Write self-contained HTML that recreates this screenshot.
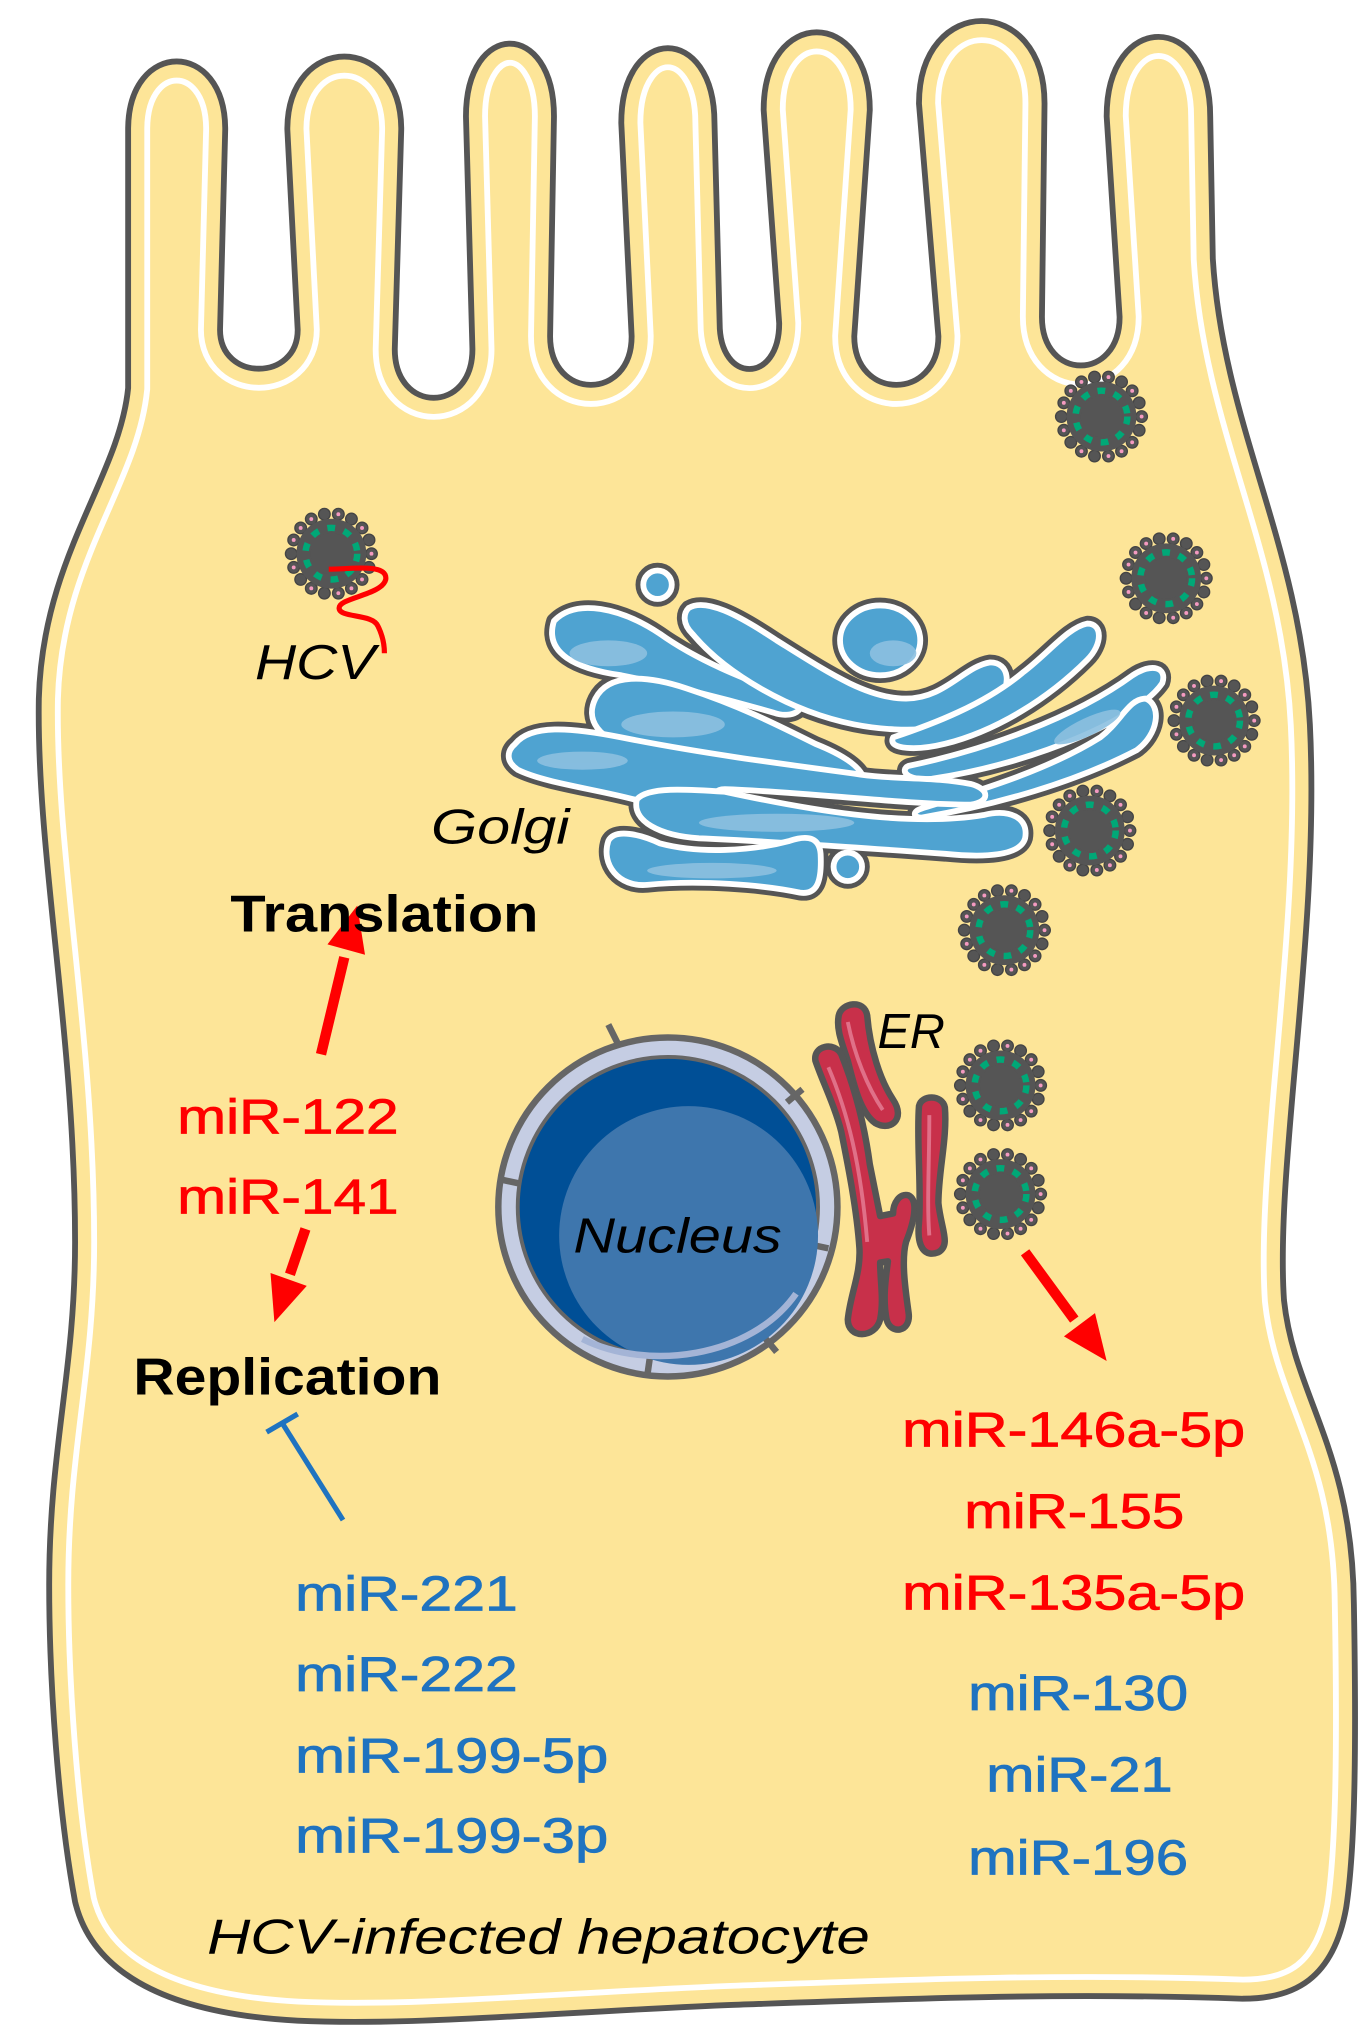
<!DOCTYPE html>
<html><head><meta charset="utf-8"><style>
html,body{margin:0;padding:0;background:#fff}
svg{display:block}
text{font-family:"Liberation Sans",sans-serif}
</style></head><body>
<svg width="1372" height="2044" viewBox="0 0 1060 1580" preserveAspectRatio="none" xmlns="http://www.w3.org/2000/svg">
<defs>
<path id="cell" d="M99 300 L99 100 C99 30,174 30,174 100 L170 255 C170 295,230 295,230 255 L222 100 C222 25,310 25,310 100 L305 270 C305 320,365 320,365 270 L360 90 C360 15,428 15,428 90 L425 260 C425 310,488 310,488 260 L480 95 C480 18,552 18,552 95 L556 250 C556 297,602 297,602 250 L590 85 C590 5,672 5,672 85 L660 260 C660 310,725 310,725 260 L710 80 C710 -5,807 -5,807 80 L805 245 C805 295,865 295,865 245 L855 90 C855 8,935 8,935 90 L937 200 C945 330,1005 420,1012 560 C1020 720,985 900,992 1005 C1000 1080,1045 1120,1046 1240 C1048 1350,1047 1430,1040 1475 C1030 1530,1000 1545,960 1545 C820 1540,700 1545,560 1550 C420 1556,320 1566,230 1562 C120 1556,70 1520,58 1470 C45 1400,38 1300,38 1225 C38 1120,58 1060,58 960 C58 800,28 660,30 540 C33 430,92 370,99 300 Z"/>
<clipPath id="cc"><use href="#cell"/></clipPath>
<g id="vir">
<g fill="#555" stroke="#444" stroke-width="1">
<circle cx="31" cy="0" r="4.5"/><circle cx="29.1" cy="10.6" r="4.5"/><circle cx="23.7" cy="19.9" r="4.5"/><circle cx="15.5" cy="26.8" r="4.5"/><circle cx="5.4" cy="30.5" r="4.5"/><circle cx="-5.4" cy="30.5" r="4.5"/><circle cx="-15.5" cy="26.8" r="4.5"/><circle cx="-23.7" cy="19.9" r="4.5"/><circle cx="-29.1" cy="10.6" r="4.5"/><circle cx="-31" cy="0" r="4.5"/><circle cx="-29.1" cy="-10.6" r="4.5"/><circle cx="-23.7" cy="-19.9" r="4.5"/><circle cx="-15.5" cy="-26.8" r="4.5"/><circle cx="-5.4" cy="-30.5" r="4.5"/><circle cx="5.4" cy="-30.5" r="4.5"/><circle cx="15.5" cy="-26.8" r="4.5"/><circle cx="23.7" cy="-19.9" r="4.5"/><circle cx="29.1" cy="-10.6" r="4.5"/>
</g>
<g fill="#f49ac1">
<circle cx="31" cy="0" r="1.5"/><circle cx="23.7" cy="19.9" r="1.5"/><circle cx="5.4" cy="30.5" r="1.5"/><circle cx="-15.5" cy="26.8" r="1.5"/><circle cx="-29.1" cy="10.6" r="1.5"/><circle cx="-29.1" cy="-10.6" r="1.5"/><circle cx="-15.5" cy="-26.8" r="1.5"/><circle cx="5.4" cy="-30.5" r="1.5"/><circle cx="23.7" cy="-19.9" r="1.5"/><circle cx="15.5" cy="26.8" r="1.5"/><circle cx="-23.7" cy="-19.9" r="1.5"/>
</g>
<circle r="27" fill="#555"/>
<circle r="20" fill="none" stroke="#00a877" stroke-width="5" stroke-dasharray="6 7"/>
<circle r="16" fill="#555"/>
</g>
</defs>

<use href="#cell" fill="#fde598"/>
<g clip-path="url(#cc)">
<use href="#cell" fill="none" stroke="#fff" stroke-width="34"/>
<use href="#cell" fill="none" stroke="#fde598" stroke-width="25"/>
</g>
<use href="#cell" fill="none" stroke="#555" stroke-width="4.5"/>

<g stroke="#555" stroke-width="12" fill="#555" stroke-linejoin="round">
<path id="gA" d="M428 480 C445 462,480 470,510 490 C545 515,590 530,615 540 C625 548,612 556,598 551 C560 540,520 530,480 522 C445 517,420 505,428 480 Z"/>
<path id="gB" d="M532 470 C545 462,570 475,600 495 C640 520,670 540,700 540 C730 540,745 515,765 512 C780 512,782 530,770 543 C750 565,700 568,660 560 C610 550,560 520,535 490 C527 482,528 474,532 470 Z"/>
<ellipse cx="680" cy="495" rx="31" ry="27"/>
<circle cx="508" cy="452" r="11"/>
<circle cx="655" cy="670" r="11"/>
<path id="gC" d="M460 540 C470 520,500 522,530 532 C570 545,600 560,630 575 C655 585,670 596,668 608 C665 616,640 612,610 603 C570 590,530 585,490 578 C462 572,452 556,460 540 Z"/>
<path id="gD" d="M690 570 C720 560,760 545,790 520 C810 505,825 485,840 482 C852 482,852 498,840 510 C810 540,770 565,730 575 C710 580,685 580,690 570 Z"/>
<path id="gE" d="M702 592 C760 580,830 555,875 522 C890 512,902 516,898 528 C880 555,800 590,720 602 C700 604,695 595,702 592 Z"/>
<path id="gE2" d="M712 625 C760 610,810 595,850 570 C866 558,872 540,885 540 C898 545,895 568,878 580 C830 605,770 622,712 632 C705 632,705 627,712 625 Z"/>
<path id="gF" d="M398 575 C410 560,440 562,480 570 C540 582,600 590,660 598 C690 603,720 600,750 606 C765 610,765 620,750 622 C700 622,620 612,560 610 C545 610,560 625,545 628 C520 632,500 625,490 618 C460 610,420 605,400 595 C390 588,392 580,398 575 Z"/>
<path id="gG" d="M492 618 C500 608,530 610,560 612 C620 625,700 640,760 630 C780 625,795 632,792 648 C788 662,760 663,730 660 C660 655,590 650,540 648 C510 646,488 635,492 618 Z"/>
<path id="gH" d="M470 650 C475 640,495 645,510 652 C540 660,580 658,610 650 C625 645,633 648,634 660 C635 680,632 692,618 690 C590 684,540 680,500 684 C478 686,464 668,470 650 Z"/>
</g>
<g stroke="#fff" stroke-width="4.5" fill="#4fa3d1" stroke-linejoin="round">
<use href="#gA"/><use href="#gB"/><ellipse cx="680" cy="495" rx="31" ry="27"/>
<circle cx="508" cy="452" r="11"/><circle cx="655" cy="670" r="11"/>
<use href="#gC"/><use href="#gD"/><use href="#gE"/><use href="#gE2"/><use href="#gF"/><use href="#gG"/><use href="#gH"/>
</g>
<g fill="#8cc0e0" opacity="0.9">
<ellipse cx="470" cy="505" rx="30" ry="10"/><ellipse cx="690" cy="505" rx="18" ry="10"/>
<ellipse cx="520" cy="560" rx="40" ry="10"/><ellipse cx="450" cy="588" rx="35" ry="7"/>
<ellipse cx="600" cy="636" rx="60" ry="7"/><ellipse cx="550" cy="673" rx="50" ry="6"/>
<ellipse cx="840" cy="562" rx="28" ry="7" transform="rotate(-25 840 562)"/>
</g>

<circle cx="516" cy="933" r="131" fill="#c5cde3" stroke="#666" stroke-width="5"/>
<g stroke="#666" stroke-width="5">
<line x1="470" y1="792" x2="478" y2="808"/><line x1="620" y1="842" x2="608" y2="852"/>
<line x1="640" y1="965" x2="626" y2="962"/><line x1="600" y1="1045" x2="590" y2="1033"/>
<line x1="500" y1="1064" x2="502" y2="1050"/><line x1="388" y1="912" x2="402" y2="915"/>
</g>
<circle cx="516" cy="933" r="116" fill="#004f96" stroke="#666" stroke-width="3"/>
<circle cx="532" cy="955" r="100" fill="#3e76ad"/>
<path d="M450 1035 C500 1060,580 1050,615 1000" fill="none" stroke="#a4b4d6" stroke-width="5"/>

<g fill="#c8304a" stroke="#555" stroke-width="5" stroke-linejoin="round">
<path d="M648 785 C650 775,668 772,670 785 C672 810,680 835,690 850 C700 865,688 875,676 868 C665 860,660 840,655 820 C650 805,646 795,648 785 Z"/>
<path d="M630 820 C628 808,645 805,650 815 C660 840,668 870,672 900 C676 920,678 930,680 940 L690 938 C690 930,695 922,702 924 C710 928,706 945,700 960 C696 975,700 1000,702 1015 C704 1030,688 1032,685 1020 C682 1005,684 990,686 975 L680 976 C680 990,683 1005,680 1020 C676 1035,655 1035,655 1020 C657 1000,665 985,664 965 C662 935,655 900,650 875 C645 855,635 835,630 820 Z"/>
<path d="M710 855 C712 846,728 846,730 856 C732 880,725 905,725 930 C727 950,735 962,725 968 C715 972,708 965,710 945 C712 920,708 880,710 855 Z"/>
</g>
<g fill="none" stroke="#e07088" stroke-width="3">
<path d="M655 790 C660 815,670 840,682 858"/><path d="M640 825 C655 860,665 900,670 960"/><path d="M718 862 C718 900,716 930,718 955"/>
</g>

<use href="#vir" x="851" y="322"/>
<use href="#vir" x="256" y="428"/>
<use href="#vir" x="901" y="447"/>
<use href="#vir" x="938" y="557"/>
<use href="#vir" x="842" y="642"/>
<use href="#vir" x="776" y="719"/>
<use href="#vir" x="773" y="839"/>
<use href="#vir" x="773" y="923"/>

<path d="M254 440 C270 440,300 435,298 448 C295 460,262 462,262 470 C262 478,288 474,292 484 C296 492,297 500,297 505" fill="none" stroke="#f00" stroke-width="4"/>

<g fill="#f00" stroke="#f00">
<line x1="248" y1="815" x2="266" y2="740" stroke-width="8"/>
<polygon points="276,700 282,738 253,730" stroke="none"/>
<line x1="236" y1="950" x2="224" y2="985" stroke-width="8"/>
<polygon points="212,1022 237,994 209,984" stroke="none"/>
<line x1="792" y1="968" x2="830" y2="1020" stroke-width="8"/>
<polygon points="855,1052 846,1015 822,1033" stroke="none"/>
</g>
<g stroke="#1f73c0" stroke-width="4">
<line x1="265" y1="1175" x2="218" y2="1100"/>
<line x1="206" y1="1107" x2="230" y2="1093"/>
</g>

<g font-size="38" font-style="italic" fill="#000">
<text x="197" y="525" textLength="93" lengthAdjust="spacingAndGlyphs">HCV</text>
<text x="333" y="652" textLength="107" lengthAdjust="spacingAndGlyphs">Golgi</text>
<text x="678" y="810" textLength="52" lengthAdjust="spacingAndGlyphs">ER</text>
<text x="443" y="968" textLength="161" lengthAdjust="spacingAndGlyphs">Nucleus</text>
<text x="160" y="1510" textLength="512" lengthAdjust="spacingAndGlyphs">HCV-infected hepatocyte</text>
</g>
<g font-size="40" font-weight="bold" fill="#000">
<text x="178" y="720" textLength="238" lengthAdjust="spacingAndGlyphs">Translation</text>
<text x="103" y="1078" textLength="238" lengthAdjust="spacingAndGlyphs">Replication</text>
</g>
<g font-size="38" fill="#f00" stroke="#f00" stroke-width="0.6">
<text x="137" y="876" textLength="171" lengthAdjust="spacingAndGlyphs">miR-122</text>
<text x="137" y="938" textLength="171" lengthAdjust="spacingAndGlyphs">miR-141</text>
<text x="697" y="1118" textLength="265" lengthAdjust="spacingAndGlyphs">miR-146a-5p</text>
<text x="745" y="1181" textLength="170" lengthAdjust="spacingAndGlyphs">miR-155</text>
<text x="697" y="1244" textLength="265" lengthAdjust="spacingAndGlyphs">miR-135a-5p</text>
</g>
<g font-size="38" fill="#1f73c0" stroke="#1f73c0" stroke-width="0.6">
<text x="748" y="1322" textLength="170" lengthAdjust="spacingAndGlyphs">miR-130</text>
<text x="762" y="1385" textLength="144" lengthAdjust="spacingAndGlyphs">miR-21</text>
<text x="748" y="1449" textLength="170" lengthAdjust="spacingAndGlyphs">miR-196</text>
<text x="228" y="1245" textLength="172" lengthAdjust="spacingAndGlyphs">miR-221</text>
<text x="228" y="1307" textLength="172" lengthAdjust="spacingAndGlyphs">miR-222</text>
<text x="228" y="1370" textLength="242" lengthAdjust="spacingAndGlyphs">miR-199-5p</text>
<text x="228" y="1432" textLength="242" lengthAdjust="spacingAndGlyphs">miR-199-3p</text>
</g>
</svg>
</body></html>
